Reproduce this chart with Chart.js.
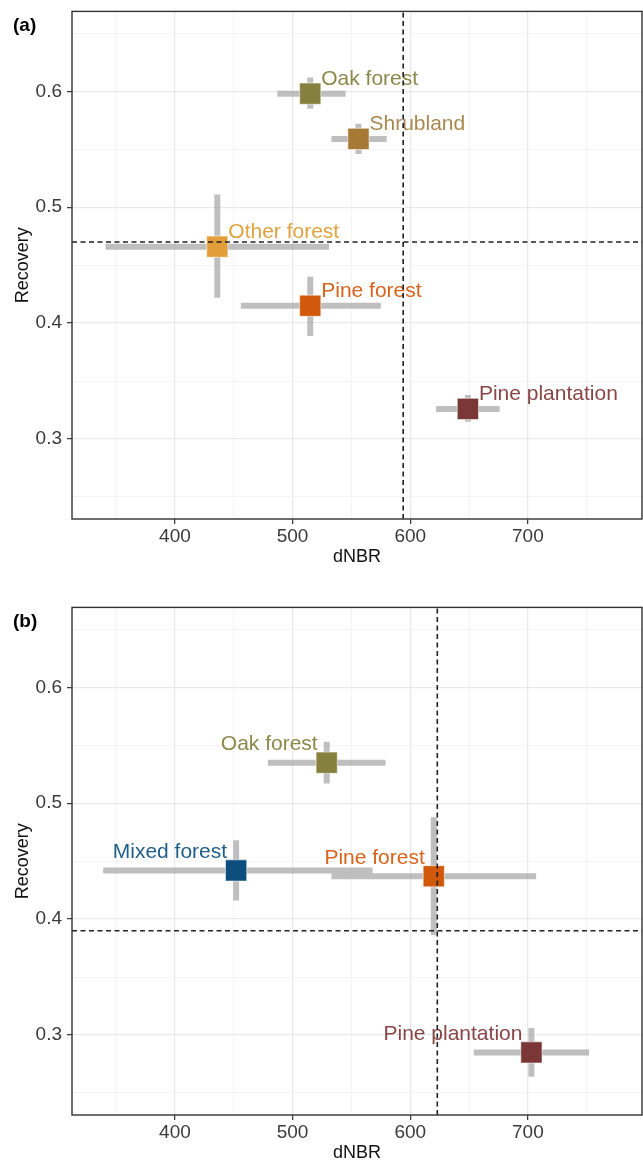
<!DOCTYPE html>
<html>
<head>
<meta charset="utf-8">
<script src="https://cdn.jsdelivr.net/npm/chart.js@4"></script>
<style>
  html, body { margin: 0; padding: 0; background: #fff; overflow: hidden; }
  body { width: 643px; height: 1162px; position: relative; }
  .panel { position: absolute; left: 0; width: 658px; height: 585px; }
  .panel canvas { display: block; }
  #panelA { top: -5px; }
  #panelB { top: 591px; }
</style>
</head>
<body>
<div class="panel" id="panelA"><canvas id="chartA" width="658" height="585"></canvas></div>
<div class="panel" id="panelB"><canvas id="chartB" width="658" height="585"></canvas></div>
<script>
// panel (a)
const catsA = ['Oak forest', 'Shrubland', 'Other forest', 'Pine forest', 'Pine plantation'];
const dnbrA = [515, 556, 436, 515, 649];
const dnbrLoA = [487, 533, 341, 456, 622];
const dnbrHiA = [545, 580, 531, 575, 676];
const recA = [0.598, 0.559, 0.466, 0.415, 0.326];
const recLoA = [0.585, 0.546, 0.422, 0.389, 0.315];
const recHiA = [0.612, 0.572, 0.511, 0.440, 0.338];
const refDnbrA = 594;
const refRecA = 0.47;

// panel (b)
const catsB = ['Oak forest', 'Mixed forest', 'Pine forest', 'Pine plantation'];
const dnbrB = [529, 452, 620, 703];
const dnbrLoB = [479, 339, 533, 654];
const dnbrHiB = [579, 568, 707, 752];
const recB = [0.535, 0.442, 0.437, 0.285];
const recLoB = [0.517, 0.416, 0.386, 0.264];
const recHiB = [0.553, 0.468, 0.488, 0.306];
const refDnbrB = 623;
const refRecB = 0.39;

// axis ranges
const xMin = 312.5, xMax = 797;
const yMin = 0.231, yMax = 0.669;

const markerColors = {
  'Oak forest': '#86803f',
  'Shrubland': '#a67935',
  'Other forest': '#e29e3b',
  'Pine forest': '#d2580b',
  'Pine plantation': '#7b3636',
  'Mixed forest': '#0c4f7e',
};
const textColors = {
  'Oak forest': '#8b894b',
  'Shrubland': '#a9894f',
  'Other forest': '#e0a240',
  'Pine forest': '#d8631c',
  'Pine plantation': '#8a4647',
  'Mixed forest': '#1e5f8a',
};

const FONT = "'Liberation Sans', Arial, sans-serif";
const barGrey = 'rgba(160,160,160,0.68)';
const dashCol = '#222';

const decor = {
  id: 'decor',
  afterDatasetDraw(chart, args, opts) {
    if (args.index !== opts.markerIndex) return;
    const ctx = chart.ctx;
    const xs = chart.scales.x, ys = chart.scales.y;
    ctx.save();
    ctx.font = '21px ' + FONT;
    ctx.textBaseline = 'alphabetic';
    opts.labels.forEach((name, i) => {
      const px = xs.getPixelForValue(opts.xs[i]);
      const py = ys.getPixelForValue(opts.ys[i]);
      ctx.fillStyle = textColors[name];
      if (opts.side === 'right') {
        ctx.textAlign = 'left';
        ctx.fillText(name, px + 11, py - 9);
      } else {
        ctx.textAlign = 'right';
        ctx.fillText(name, px - 9, py - 12.5);
      }
    });
    ctx.restore();
  },
  afterDraw(chart, args, opts) {
    const ctx = chart.ctx;
    const a = chart.chartArea;
    ctx.save();
    ctx.strokeStyle = '#333';
    ctx.lineWidth = 1.4;
    ctx.strokeRect(a.left, a.top, a.right - a.left, a.bottom - a.top);
    ctx.fillStyle = '#000';
    ctx.font = 'bold 19px ' + FONT;
    ctx.textAlign = 'left';
    ctx.textBaseline = 'middle';
    ctx.fillText(opts.letter, 13, a.top + 14);
    ctx.restore();
  },
};

function buildDatasets(cats, xv, xlo, xhi, yv, ylo, yhi, refX, refY) {
  const sets = [];
  cats.forEach((c, i) => {
    sets.push({
      type: 'line', order: 3,
      data: [{ x: xlo[i], y: yv[i] }, { x: xhi[i], y: yv[i] }],
      borderColor: barGrey, borderWidth: 6, pointRadius: 0, borderCapStyle: 'butt',
    });
    sets.push({
      type: 'line', order: 3,
      data: [{ x: xv[i], y: ylo[i] }, { x: xv[i], y: yhi[i] }],
      borderColor: barGrey, borderWidth: 6, pointRadius: 0, borderCapStyle: 'butt',
    });
  });
  sets.push({
    type: 'scatter', order: 2,
    data: cats.map((c, i) => ({ x: xv[i], y: yv[i] })),
    pointStyle: 'rect',
    pointRadius: 15,
    backgroundColor: cats.map((c) => markerColors[c]),
    borderColor: 'rgba(255,255,255,0.55)',
    borderWidth: 1,
  });
  sets.push({
    type: 'line', order: 1,
    data: [{ x: refX, y: yMin }, { x: refX, y: yMax }],
    borderColor: dashCol, borderWidth: 1.6, borderDash: [5, 3.5], pointRadius: 0,
  });
  sets.push({
    type: 'line', order: 1,
    data: [{ x: xMin, y: refY }, { x: xMax, y: refY }],
    borderColor: dashCol, borderWidth: 1.6, borderDash: [5, 3.5], pointRadius: 0,
  });
  return sets;
}

const isMajorX = (v) => Math.round(v) % 100 === 0;
const isMajorY = (v) => Math.round(v * 100) % 10 === 0;

function renderPanel(canvasId, letter, cats, xv, xlo, xhi, yv, ylo, yhi, refX, refY, side) {
  const datasets = buildDatasets(cats, xv, xlo, xhi, yv, ylo, yhi, refX, refY);
  const markerIndex = cats.length * 2;
  return new Chart(document.getElementById(canvasId), {
    type: 'scatter',
    data: { datasets: datasets },
    plugins: [decor],
    options: {
      responsive: false,
      maintainAspectRatio: false,
      devicePixelRatio: 1,
      animation: false,
      layout: { padding: { top: 11, right: 1, left: 0, bottom: 0 } },
      plugins: {
        legend: { display: false },
        tooltip: { enabled: false },
        decor: { letter: letter, labels: cats, xs: xv, ys: yv, side: side, markerIndex: markerIndex },
      },
      scales: {
        x: {
          type: 'linear',
          min: xMin,
          max: xMax,
          afterFit: (scale) => { scale.height = 61; },
          border: { display: false },
          grid: {
            color: (c) => (isMajorX(c.tick.value) ? '#e9e9e9' : '#f1f1f1'),
            lineWidth: (c) => (isMajorX(c.tick.value) ? 1.3 : 0.8),
            tickColor: (c) => (isMajorX(c.tick.value) ? '#333' : 'rgba(0,0,0,0)'),
            tickLength: 5,
            tickWidth: 1.2,
          },
          ticks: {
            stepSize: 50,
            includeBounds: false,
            autoSkip: false,
            maxRotation: 0,
            padding: 1,
            color: '#3a3a3a',
            font: { size: 19, family: FONT },
            callback: (v) => (isMajorX(v) ? String(Math.round(v)) : ''),
          },
          title: {
            display: true,
            text: 'dNBR',
            color: '#111',
            font: { size: 18, family: FONT },
            padding: { top: 0, bottom: 12 },
          },
        },
        y: {
          type: 'linear',
          min: yMin,
          max: yMax,
          afterFit: (scale) => { scale.width = 72; },
          border: { display: false },
          grid: {
            color: (c) => (isMajorY(c.tick.value) ? '#e9e9e9' : '#f1f1f1'),
            lineWidth: (c) => (isMajorY(c.tick.value) ? 1.3 : 0.8),
            tickColor: (c) => (isMajorY(c.tick.value) ? '#333' : 'rgba(0,0,0,0)'),
            tickLength: 5,
            tickWidth: 1.2,
          },
          ticks: {
            stepSize: 0.05,
            includeBounds: false,
            autoSkip: false,
            padding: 5,
            color: '#3a3a3a',
            font: { size: 19, family: FONT },
            callback: (v) => (isMajorY(v) ? (Math.round(v * 100) / 100).toFixed(1) : ''),
          },
          title: {
            display: true,
            text: 'Recovery',
            color: '#111',
            font: { size: 18, family: FONT },
            padding: { top: 12, bottom: 0 },
          },
        },
      },
    },
  });
}

renderPanel('chartA', '(a)', catsA, dnbrA, dnbrLoA, dnbrHiA, recA, recLoA, recHiA, refDnbrA, refRecA, 'right');
renderPanel('chartB', '(b)', catsB, dnbrB, dnbrLoB, dnbrHiB, recB, recLoB, recHiB, refDnbrB, refRecB, 'left');
</script>
</body>
</html>
